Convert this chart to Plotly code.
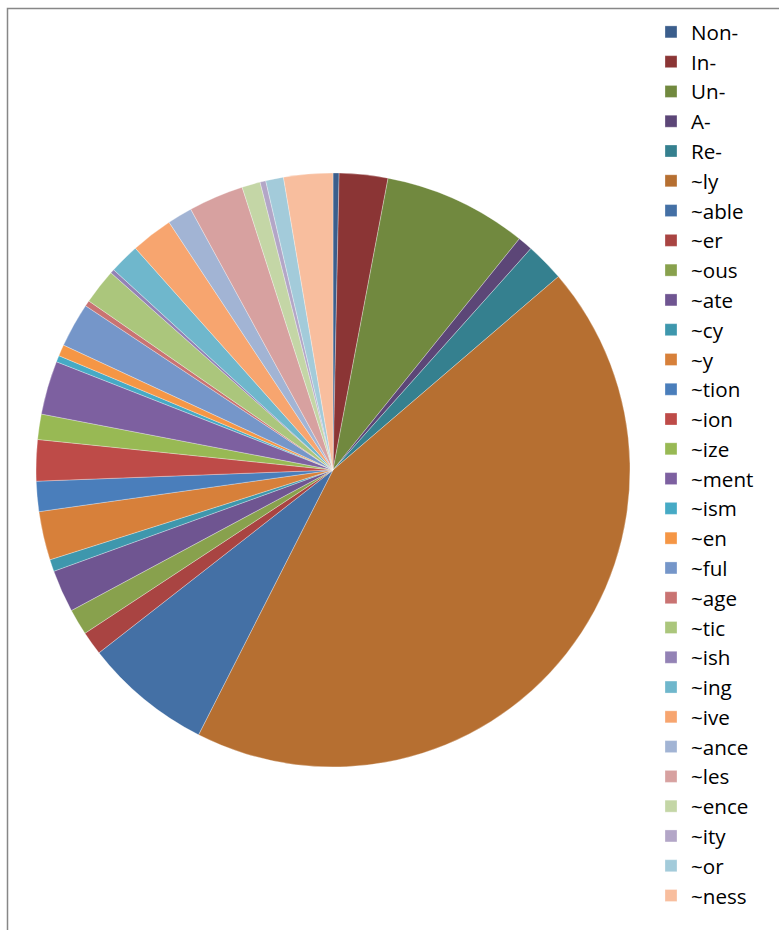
import plotly.graph_objects as go

labels = ["Non-", "In-", "Un-", "A-", "Re-", "~ly", "~able", "~er", "~ous", "~ate",
          "~cy", "~y", "~tion", "~ion", "~ize", "~ment", "~ism", "~en", "~ful", "~age",
          "~tic", "~ish", "~ing", "~ive", "~ance", "~les", "~ence", "~ity", "~or", "~ness"]
values = [0.33, 2.64, 7.83, 0.81, 2.11, 43.78, 6.97, 1.29, 1.42, 2.31,
          0.65, 2.65, 1.64, 2.24, 1.38, 2.92, 0.35, 0.62, 2.42, 0.31,
          1.92, 0.22, 1.64, 2.28, 1.36, 3.00, 1.00, 0.31, 0.97, 2.67]
colors = ["#3B5E8C", "#8B3535", "#71893F", "#5C4677", "#35808F", "#B66F31", "#4470A5",
          "#A94442", "#88A14D", "#6F5591", "#3E97AD", "#D7803A", "#4A7EBB", "#BE4B48",
          "#98B954", "#7D60A0", "#46AAC5", "#F59645", "#7596C9", "#C97372", "#ABC67C",
          "#9382B5", "#6FB7CC", "#F7A56F", "#A2B4D4", "#D7A1A0", "#C4D6A6", "#B3A6C7",
          "#A3CBDA", "#F8BE9E"]

W, H = 779, 930
cx, cy, r = 333, 470, 297

fig = go.Figure(go.Pie(
    labels=labels, values=values, sort=False, direction="clockwise", rotation=0,
    marker=dict(colors=colors, line=dict(color="rgba(255,255,255,0.6)", width=0.5)),
    textinfo="none", hoverinfo="label+percent",
    domain=dict(x=[(cx - r) / W, (cx + r) / W], y=[(H - cy - r) / H, (H - cy + r) / H]),
))

fig.update_layout(
    width=W, height=H, autosize=False,
    margin=dict(l=0, r=0, t=0, b=0),
    paper_bgcolor="white", plot_bgcolor="white",
    showlegend=True,
    legend=dict(x=651 / W, y=1 - 12 / H, xanchor="left", yanchor="top",
                font=dict(family="Open Sans, Liberation Sans, sans-serif", size=20.6, color="black"),
                bgcolor="rgba(0,0,0,0)", traceorder="normal"),
    shapes=[dict(type="rect", xref="paper", yref="paper",
                 x0=7.5 / W, x1=1.05, y0=-0.05, y1=1 - 8.5 / H,
                 line=dict(color="#878787", width=1.5), fillcolor="rgba(0,0,0,0)", layer="below")],
)

fig.write_html("out.html")
